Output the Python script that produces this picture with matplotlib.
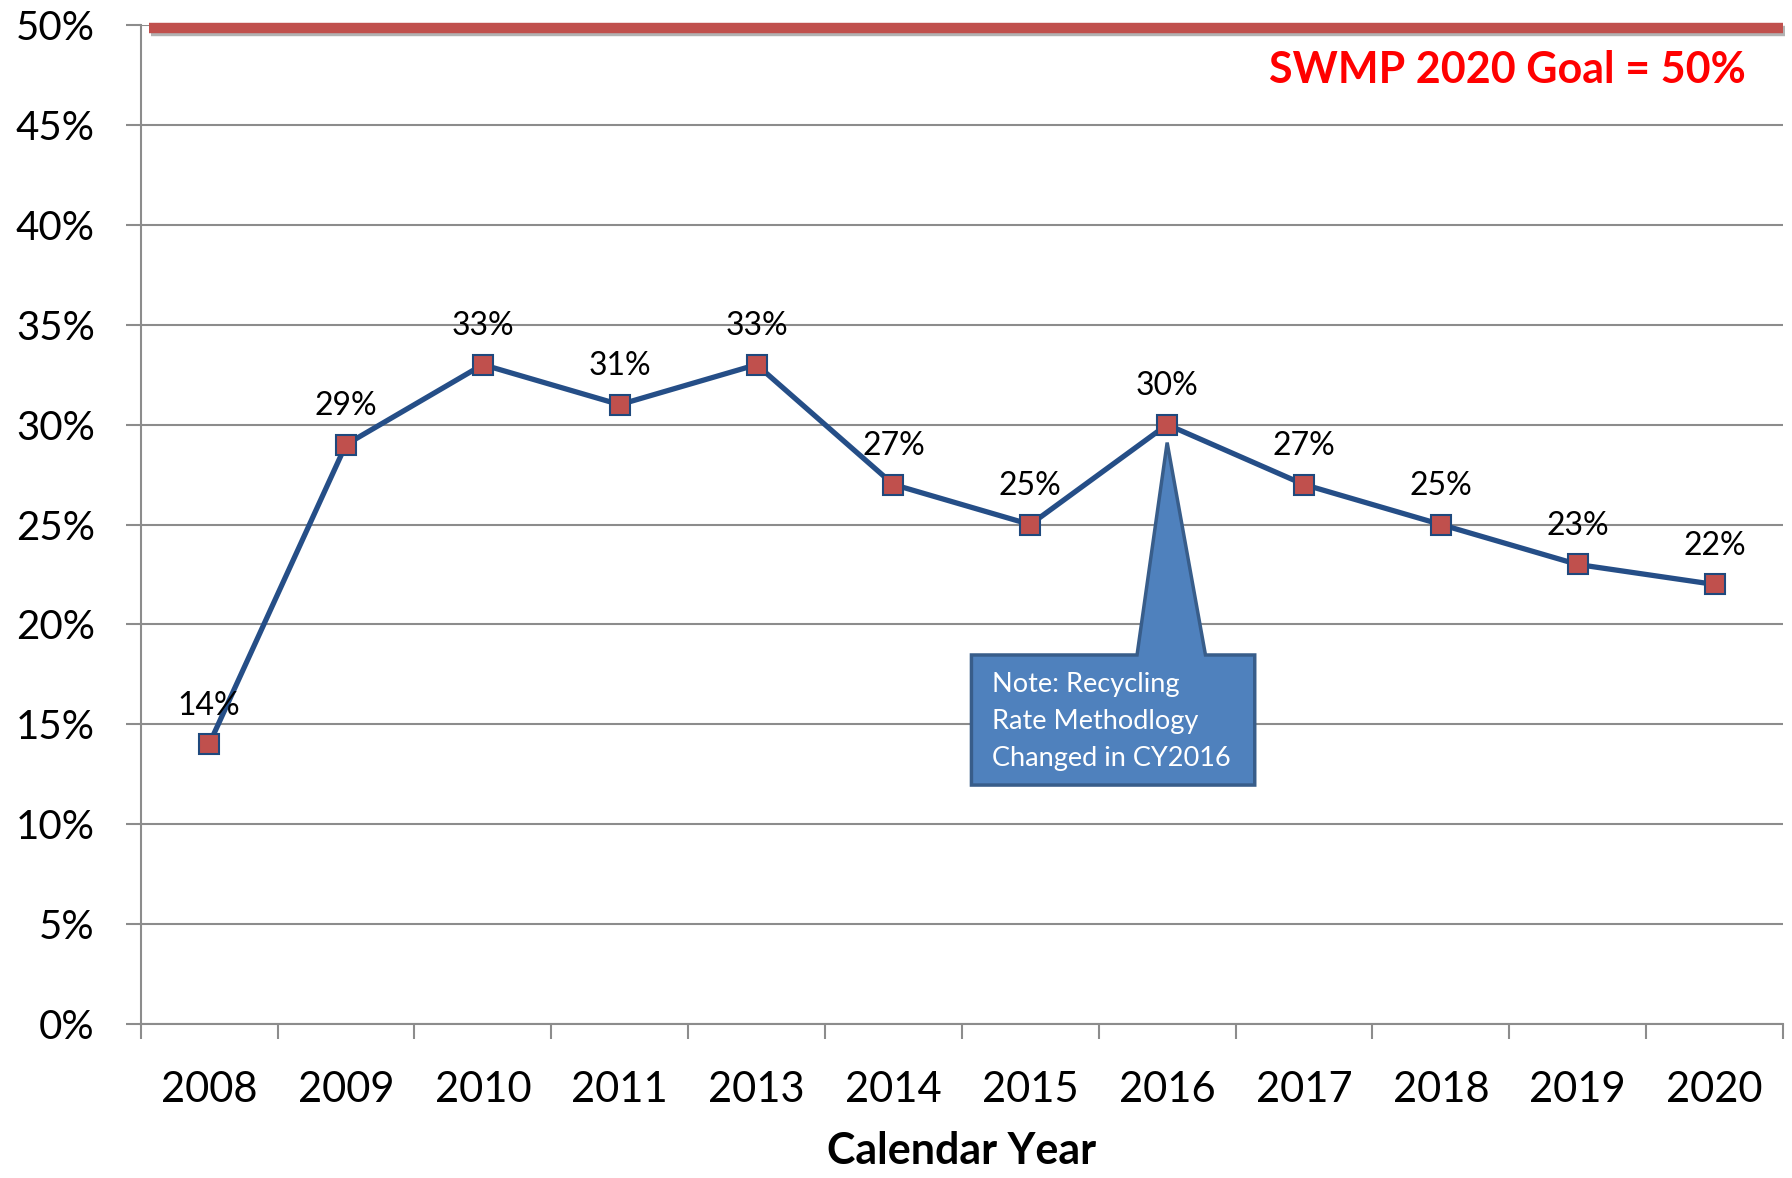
import numpy as np
import matplotlib
matplotlib.use('Agg')
import matplotlib.pyplot as plt
from matplotlib.patches import Polygon
import matplotlib.patheffects as pe

years = ['2008', '2009', '2010', '2011', '2013', '2014', '2015', '2016',
         '2017', '2018', '2019', '2020']
rates = [14, 29, 33, 31, 33, 27, 25, 30, 27, 25, 23, 22]
goal = 50
goal_label = 'SWMP 2020 Goal = 50%'
note_lines = ['Note: Recycling', 'Rate Methodlogy', 'Changed in CY2016']
note_year = '2016'

plt.rcParams['font.family'] = ['Lato', 'DejaVu Sans']

fig = plt.figure(figsize=(17.92, 11.78), dpi=100)
ax = fig.add_axes([0.0785, 0.1307, 0.9165, 0.8481])

x = np.arange(len(years))
grid_c = '#8c8c8c'

# goal line with a soft shadow
ax.axhline(goal - 0.15, xmin=0.005, xmax=1.0, color='#c0504d', lw=7.5, zorder=4,
           solid_capstyle='butt', clip_on=False,
           path_effects=[pe.SimpleLineShadow(offset=(1.5, -2), alpha=0.3),
                         pe.Normal()])

ax.plot(x, rates, '-', color='#254e87', lw=3.8, marker='s', markersize=14,
        markerfacecolor='#c0504d', markeredgecolor='#1f497d',
        markeredgewidth=1.5, zorder=5)

for xi, v in zip(x, rates):
    ax.annotate('%d%%' % v, (xi, v), xytext=(0, 17), textcoords='offset points',
                ha='center', va='bottom', fontsize=23, color='black', zorder=6)

# callout box pointing at the 2016 point
xi = years.index(note_year)
tip_y = rates[xi] - 0.9
box = [(xi - 1.43, 11.96), (xi - 1.43, 18.47), (xi - 0.22, 18.47),
       (xi, tip_y), (xi + 0.28, 18.47), (xi + 0.64, 18.47), (xi + 0.64, 11.96)]
ax.add_patch(Polygon(box, closed=True, facecolor='#4f81bd', edgecolor='#385d8a',
                     lw=2.5, zorder=7, joinstyle='miter'))
ax.text(xi - 1.28, 17.6, '\n'.join(note_lines), color='white', fontsize=19.5,
        ha='left', va='top', linespacing=1.6, zorder=8)

ax.text(0.9775, 0.955, goal_label, transform=ax.transAxes, ha='right',
        va='center', color='#ff0000', fontsize=31, fontweight='bold', zorder=6)

ax.set_xlim(-0.5, len(years) - 0.5)
ax.set_ylim(0, 50)
ax.set_yticks(np.arange(0, 51, 5))
ax.set_yticklabels(['%d%%' % t for t in range(0, 51, 5)])
ax.set_xticks(x)
ax.set_xticklabels(years)
ax.set_xticks(np.arange(-0.5, len(years), 1), minor=True)
ax.tick_params(axis='x', which='major', length=0, pad=34, labelsize=30)
ax.tick_params(axis='x', which='minor', length=11, width=1.5, color=grid_c)
ax.tick_params(axis='y', length=11, width=1.5, color=grid_c, pad=22,
               labelsize=29)

ax.yaxis.grid(True, color=grid_c, lw=1.5)
ax.set_axisbelow(True)
for s in ['top', 'right']:
    ax.spines[s].set_visible(False)
for s in ['left', 'bottom']:
    ax.spines[s].set_color(grid_c)
    ax.spines[s].set_linewidth(1.5)

ax.set_xlabel('Calendar Year', fontsize=31, fontweight='bold', labelpad=16)

fig.savefig('out.png', dpi=100)
